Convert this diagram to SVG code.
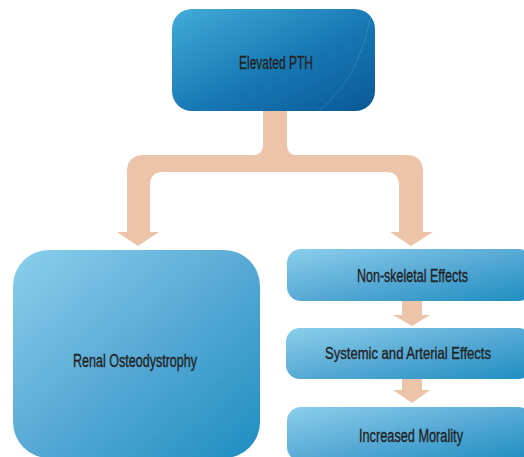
<svg xmlns="http://www.w3.org/2000/svg" width="524" height="457" viewBox="0 0 524 457">
  <defs>
    <linearGradient id="gTop" x1="0" y1="0" x2="1" y2="1">
      <stop offset="0" stop-color="#42ACD8"/>
      <stop offset="0.55" stop-color="#1778B4"/>
      <stop offset="1" stop-color="#0A5896"/>
    </linearGradient>
    <linearGradient id="gLight" x1="0" y1="0" x2="1" y2="1">
      <stop offset="0" stop-color="#8ACFEC"/>
      <stop offset="0.5" stop-color="#58AAD5"/>
      <stop offset="1" stop-color="#1D8EC1"/>
    </linearGradient>
    <clipPath id="clipTop">
      <rect x="172" y="9" width="203" height="102" rx="20"/>
    </clipPath>
  </defs>
  <style>
    .lbl { font-family: "Liberation Sans Narrow", "Liberation Sans", sans-serif; fill: #222222; stroke: #222222; stroke-width: 0.35; text-anchor: middle; }
    .conn { fill: #ECC4A9; }
  </style>

  <g id="connectors">
    <path class="conn" d="M263 111 L263 145 Q263 155 253 155 L144 155 Q127 155 127 172 L127 232 L117 232 L138 246 L159 232 L150 232 L150 185 Q150 172 163 172 L386 172 Q399 172 399 185 L399 232 L390 232 L411 246 L433 232 L423 232 L423 172 Q423 155 406 155 L297 155 Q287 155 287 145 L287 111 Z"/>
    <path class="conn" d="M402 301 L422 301 L422 315 L430 315 L412 326 L393 315 L402 315 Z"/>
    <path class="conn" d="M402 379 L422 379 L422 390 L430 390 L412 403 L393 390 L402 390 Z"/>
  </g>

  <g id="elevated-pth">
    <rect x="172" y="9" width="203" height="102" rx="20" fill="url(#gTop)"/>
    <path d="M372 10 Q360 80 318 111" fill="none" stroke="#FFFFFF" stroke-opacity="0.12" stroke-width="1" clip-path="url(#clipTop)"/>
    <text class="lbl" x="276" y="69" font-size="19" textLength="74" lengthAdjust="spacingAndGlyphs">Elevated  PTH</text>
  </g>

  <g id="renal-osteodystrophy">
    <rect x="13" y="250" width="247" height="208" rx="36" fill="url(#gLight)"/>
    <text class="lbl" x="135" y="367" font-size="18" textLength="124" lengthAdjust="spacingAndGlyphs">Renal  Osteodystrophy</text>
  </g>

  <g id="non-skeletal">
    <rect x="287" y="249" width="245" height="52" rx="14" fill="url(#gLight)"/>
    <text class="lbl" x="412.5" y="282" font-size="17.5" textLength="111" lengthAdjust="spacingAndGlyphs">Non-skeletal  Effects</text>
  </g>

  <g id="systemic-arterial">
    <rect x="286" y="328" width="246" height="51" rx="14" fill="url(#gLight)"/>
    <text class="lbl" x="408" y="359" font-size="16.5" textLength="166" lengthAdjust="spacingAndGlyphs">Systemic and Arterial Effects</text>
  </g>

  <g id="increased-morality">
    <rect x="287" y="407" width="245" height="54" rx="14" fill="url(#gLight)"/>
    <text class="lbl" x="411" y="442" font-size="18" textLength="104" lengthAdjust="spacingAndGlyphs">Increased  Morality</text>
  </g>
</svg>
